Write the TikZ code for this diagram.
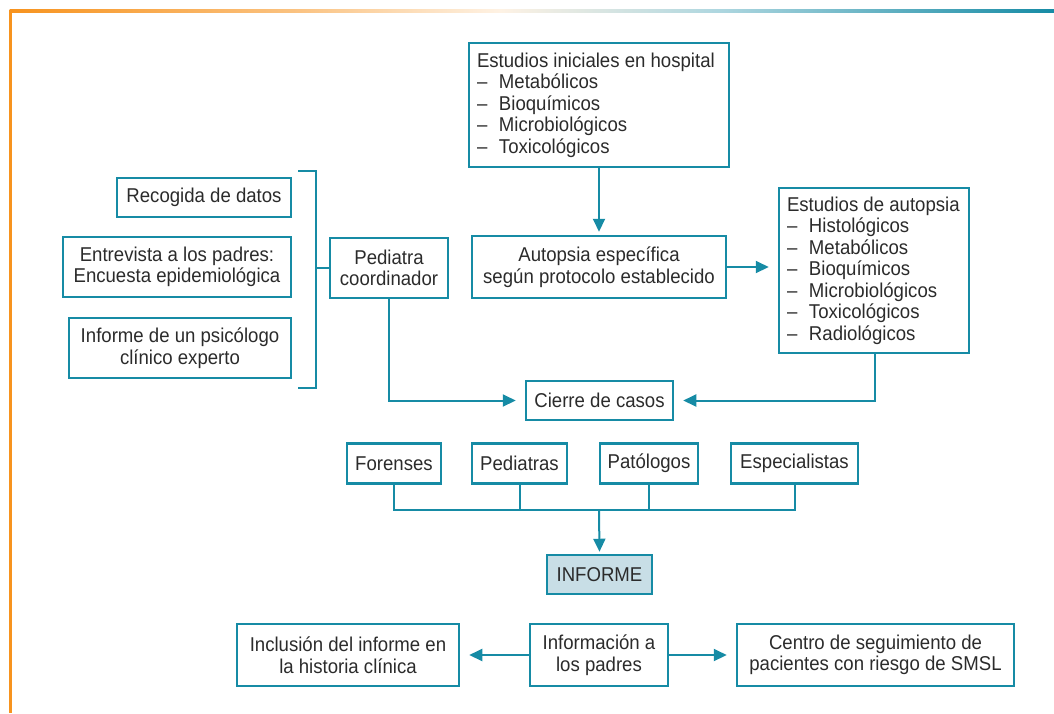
\documentclass[tikz,border=0pt]{standalone}
\usepackage{fontspec}
\setmainfont{Liberation Sans}[FakeStretch=0.93]
\usetikzlibrary{arrows.meta}
\definecolor{tealc}{HTML}{168BA5}
\definecolor{orangec}{HTML}{F7931E}
\definecolor{fillc}{HTML}{C8DEE6}
\definecolor{textc}{HTML}{2B2B2B}
\pgfdeclarehorizontalshading{topline}{100bp}{color(0bp)=(orangec); color(25bp)=(orangec);
  color(39bp)=(orangec!55!white); color(48.5bp)=(orangec!12!white); color(59bp)=(tealc!35!white);
  color(75bp)=(tealc); color(100bp)=(tealc)}
\newcommand{\itemdash}{\makebox[22pt][l]{–}}
\tikzset{
  box/.style={draw=tealc, line width=2.5pt, text=textc, inner sep=2pt, align=center,
    font=\fontsize{20}{21.5}\selectfont},
  listbox/.style={box, align=flush left, inner xsep=8pt},
  link/.style={draw=tealc, line width=2pt},
  arr/.style={link, -{Triangle[length=13pt,width=12pt]}, shorten >=9pt}
}

\begin{document}
\begin{tikzpicture}[x=1pt,y=-1pt]
        \useasboundingbox (0,0) rectangle (1054,713);
        % frame
        \shade[shading=topline] (9.5,9.6) rectangle (1054,12.8);
        \fill[orangec] (9.3,9.6) rectangle (12.3,713);
        % boxes
        \node[listbox, text width=244pt, minimum height=124pt] (hosp) at (599,105)
          {Estudios iniciales en hospital\\ \itemdash Metabólicos\\ \itemdash Bioquímicos\\
           \itemdash Microbiológicos\\ \itemdash Toxicológicos};
        \node[box, minimum width=254pt, minimum height=62pt] (autop) at (599,267)
          {Autopsia específica\\ según protocolo establecido};
        \node[listbox, text width=174pt, minimum height=165pt] (autest) at (874,270.5)
          {Estudios de autopsia\\ \itemdash Histológicos\\ \itemdash Metabólicos\\ \itemdash Bioquímicos\\
           \itemdash Microbiológicos\\ \itemdash Toxicológicos\\ \itemdash Radiológicos};
        \node[box, minimum width=174pt, minimum height=39pt] (recog) at (204,197.5) {Recogida de datos};
        \node[box, minimum width=228pt, minimum height=60pt] (entrev) at (177,267)
          {Entrevista a los padres:\\ Encuesta epidemiológica};
        \node[box, minimum width=222pt, minimum height=60pt] (psico) at (180,348)
          {Informe de un psicólogo\\ clínico experto};
        \node[box, minimum width=118pt, minimum height=60pt] (ped) at (389,268) {Pediatra\\ coordinador};
        \node[box, minimum width=147pt, minimum height=39pt] (cierre) at (599.5,400.5) {Cierre de casos};
        \node[box, minimum width=94pt, minimum height=40pt] (foren) at (394,463.5) {Forenses};
        \node[box, minimum width=95pt, minimum height=40pt] (pedtras) at (519.5,463.5) {Pediatras};
        \node[box, minimum width=98pt, minimum height=40pt] (patol) at (649,463.5) {Patólogos};
        \node[box, minimum width=127pt, minimum height=40pt] (espec) at (794.5,463.5) {Especialistas};
        \node[box, fill=fillc, minimum width=105pt, minimum height=39pt] (informe) at (599.5,574.5) {INFORME};
        \node[box, minimum width=138pt, minimum height=62pt] (infopad) at (599,655) {Información a\\ los padres};
        \node[box, minimum width=222pt, minimum height=62pt] (inclu) at (348,655)
          {Inclusión del informe en\\ la historia clínica};
        \node[box, minimum width=277pt, minimum height=62pt] (centro) at (875.5,655)
          {Centro de seguimiento de\\ pacientes con riesgo de SMSL};
        % bracket
        \coordinate (brtop) at (298,171);
        \coordinate (brbot) at (298,388);
        \coordinate (brmid) at (316,268);
        \draw[link] (brtop) -- ++(18,0) |- (brbot);
        \draw[link] (brmid) -- (ped.west);
        % connectors
        \coordinate (join) at (599,510);
        \draw[arr, shorten >=3pt] (hosp.south) -- (autop.north);
        \draw[arr] (autop.east) -- (autop.east -| autest.west);
        \draw[arr] (ped.south) |- (cierre.west);
        \draw[arr] (autest.south -| 875,0) |- (cierre.east);
        \draw[link] (foren.south) |- (espec.south |- join) -- (espec.south);
        \draw[link] (pedtras.south) -- (pedtras.south |- join);
        \draw[link] (patol.south) -- (patol.south |- join);
        \draw[arr, shorten >=2pt] (join) -- (informe.north);
        \draw[arr] (infopad.west) -- (inclu.east);
        \draw[arr] (infopad.east) -- (centro.west);
\end{tikzpicture}
\end{document}
